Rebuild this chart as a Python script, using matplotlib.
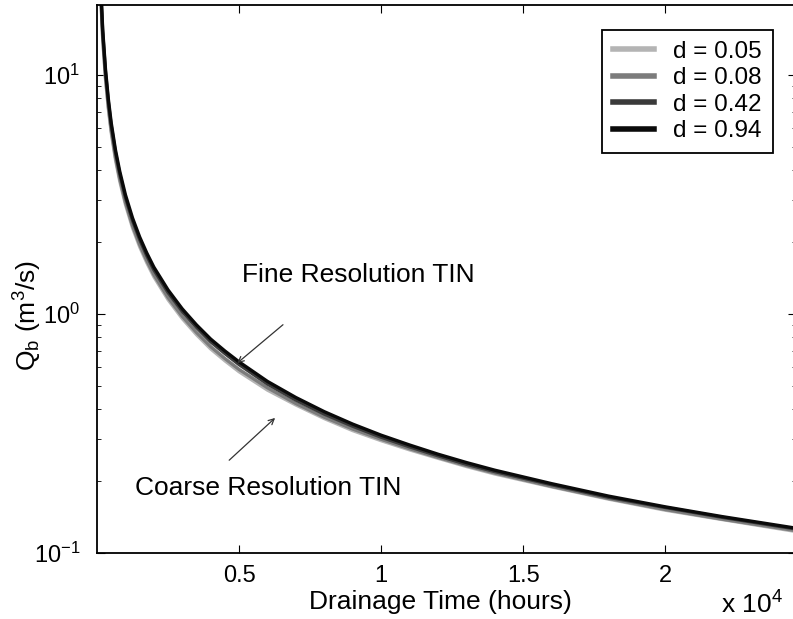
import matplotlib
matplotlib.use("Agg")
import matplotlib.pyplot as plt
from matplotlib.ticker import FixedLocator, LogLocator, NullFormatter

plt.rcParams['font.family'] = ['Liberation Sans', 'DejaVu Sans']
plt.rcParams['mathtext.fontset'] = 'custom'
plt.rcParams['mathtext.rm'] = 'Liberation Sans'
plt.rcParams['mathtext.it'] = 'Liberation Sans'

# drainage time (hours) and baseflow Q_b (m3/s)
hours = [0, 100, 150, 200, 300, 400, 500, 650, 800, 1000, 1250, 1500, 1750, 2000,
         2500, 3000, 3500, 4000, 4500, 5000, 6000, 7000, 8000, 9000, 10000, 11000,
         12000, 13000, 14000, 16000, 18000, 20000, 22000, 24600]
q_d005 = [54.6, 28.2, 19.1, 14.1, 9.56, 7.19, 5.73, 4.41, 3.59, 2.87, 2.29, 1.91, 1.638, 1.43,
          1.147, 0.956, 0.819, 0.714, 0.637, 0.573, 0.480, 0.416, 0.365, 0.325, 0.295, 0.270,
          0.249, 0.230, 0.214, 0.189, 0.168, 0.151, 0.138, 0.123]
q_d008 = [55.8, 28.8, 19.5, 14.4, 9.77, 7.35, 5.86, 4.51, 3.67, 2.93, 2.34, 1.95, 1.674, 1.46,
          1.172, 0.977, 0.837, 0.730, 0.651, 0.586, 0.491, 0.422, 0.370, 0.330, 0.299, 0.273,
          0.251, 0.232, 0.216, 0.190, 0.169, 0.152, 0.1385, 0.124]
q_d042 = [58.5, 30.2, 20.5, 15.1, 10.24, 7.7, 6.14, 4.73, 3.85, 3.07, 2.46, 2.05, 1.755, 1.53,
          1.229, 1.024, 0.878, 0.765, 0.683, 0.614, 0.509, 0.436, 0.381, 0.339, 0.305, 0.278,
          0.255, 0.235, 0.219, 0.193, 0.171, 0.155, 0.141, 0.126]
q_d094 = [60, 31, 21, 15.5, 10.5, 7.9, 6.3, 4.85, 3.95, 3.15, 2.52, 2.1, 1.8, 1.57,
          1.26, 1.05, 0.9, 0.785, 0.70, 0.63, 0.522, 0.447, 0.39, 0.346, 0.311, 0.283,
          0.259, 0.239, 0.222, 0.195, 0.173, 0.156, 0.142, 0.127]

labels = ['d = 0.05', 'd = 0.08', 'd = 0.42', 'd = 0.94']
colors = ['#b4b4b4', '#7c7c7c', '#3a3a3a', '#0a0a0a']
xticks = [5000, 10000, 15000, 20000]
xticklabels = ['0.5', '1', '1.5', '2']

fig = plt.figure(figsize=(7.93, 6.19), dpi=100)
ax = fig.add_axes([97/793, 1 - 553/619, 699/793, 548/619])

for q, lab, c in zip([q_d005, q_d008, q_d042, q_d094], labels, colors):
    ax.plot(hours, q, color=c, lw=2.4, label=lab)

ax.set_yscale('log')
ax.set_xlim(0, 24600)
ax.set_ylim(0.1, 19.6)

ax.xaxis.set_major_locator(FixedLocator(xticks))
ax.set_xticklabels(xticklabels)
ax.yaxis.set_major_locator(LogLocator(base=10))
ax.yaxis.set_minor_locator(LogLocator(base=10, subs=range(2, 10)))
ax.yaxis.set_minor_formatter(NullFormatter())
ax.tick_params(which='both', direction='in', top=True, right=True, labelsize=17)
ax.tick_params(axis='x', which='major', length=6, pad=9)
ax.tick_params(axis='y', which='major', length=6, pad=12)
ax.tick_params(axis='y', which='minor', length=3)
for s in ax.spines.values():
    s.set_linewidth(1.3)

ax.set_xlabel('Drainage Time (hours)', fontsize=19)
ax.xaxis.set_label_coords(0.492, -0.068)
ax.text(-0.099, 0.434, r'Q$_\mathregular{b}$ (m$^\mathregular{3}$/s)', transform=ax.transAxes,
        fontsize=19, rotation=90, ha='center', va='center')
ax.text(0.893, -0.094, r'x 10$^\mathregular{4}$', transform=ax.transAxes,
        fontsize=19, va='center', ha='left')

ax.annotate('Fine Resolution TIN', xy=(4860, 0.612), xytext=(5100, 1.455),
            fontsize=19, va='center', ha='left')
ax.annotate('', xy=(4860, 0.612), xytext=(6620, 0.917),
            arrowprops=dict(arrowstyle='->', color='#333333', lw=0.9))
ax.annotate('Coarse Resolution TIN', xy=(6340, 0.374), xytext=(1340, 0.187),
            fontsize=19, va='center', ha='left')
ax.annotate('', xy=(6340, 0.374), xytext=(4580, 0.240),
            arrowprops=dict(arrowstyle='->', color='#333333', lw=0.9))

leg = ax.legend(loc='upper right', bbox_to_anchor=(676/699, 1 - 25/548),
                borderaxespad=0, fontsize=17.5, handlelength=1.7,
                handletextpad=0.8, labelspacing=0.18, fancybox=False,
                framealpha=1, borderpad=0.45)
leg.get_frame().set_edgecolor('black')
leg.get_frame().set_linewidth(1.3)
for line in leg.get_lines():
    line.set_linewidth(4)

fig.savefig('out.png', dpi=100)
